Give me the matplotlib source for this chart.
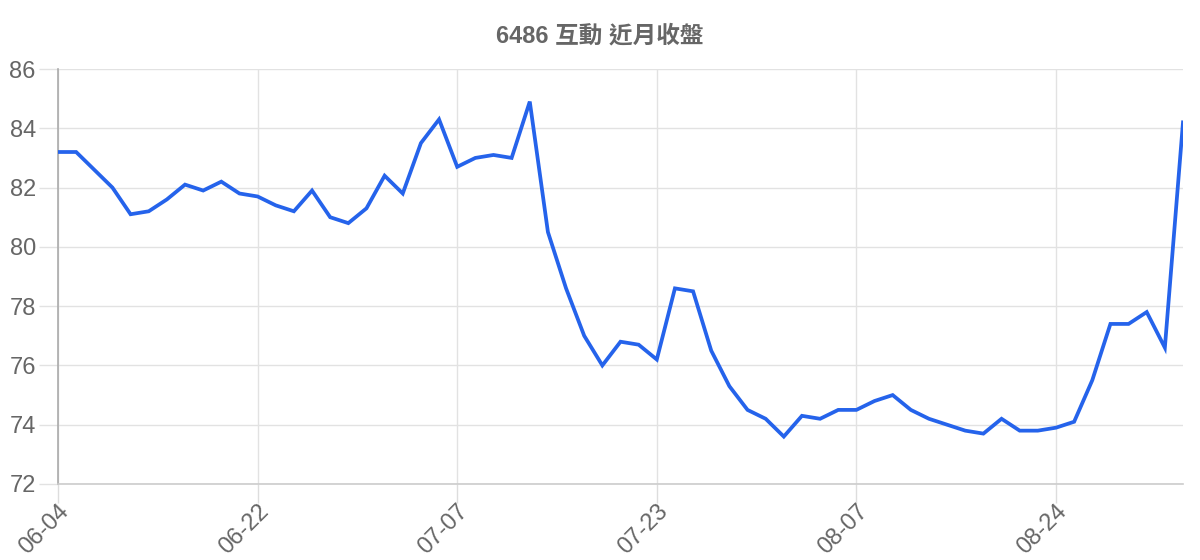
import matplotlib
matplotlib.use("Agg")
import matplotlib.pyplot as plt

plt.rcParams['font.family'] = ['Liberation Sans', 'Noto Sans CJK TC', 'DejaVu Sans']

title = '6486 互動 近月收盤'
tick_labels = ['06-04', '06-22', '07-07', '07-23', '08-07', '08-24']
tick_index = [0, 11, 22, 33, 44, 55]

close = [83.2, 83.2, 82.6, 82.0, 81.1, 81.2, 81.6, 82.1, 81.9, 82.2,
         81.8, 81.7, 81.4, 81.2, 81.9, 81.0, 80.8, 81.3, 82.4, 81.8,
         83.5, 84.3, 82.7, 83.0, 83.1, 83.0, 84.9, 80.5, 78.6, 77.0,
         76.0, 76.8, 76.7, 76.2, 78.6, 78.5, 76.5, 75.3, 74.5, 74.2,
         73.6, 74.3, 74.2, 74.5, 74.5, 74.8, 75.0, 74.5, 74.2, 74.0,
         73.8, 73.7, 74.2, 73.8, 73.8, 73.9, 74.1, 75.5, 77.4, 77.4,
         77.8, 76.6, 84.2]

x = list(range(len(close)))

fig = plt.figure(figsize=(12, 5.6), dpi=100)
ax = fig.add_axes([58 / 1200, 1 - 484 / 560, 1125 / 1200, 415 / 560])

ax.plot(x, close, color='#2563eb', linewidth=2.7, solid_joinstyle='miter', zorder=3)

ax.set_xlim(0, len(close) - 1)
ax.set_ylim(72, 86)
ax.set_yticks(range(72, 87, 2))
ax.set_xticks(tick_index)
ax.set_xticklabels(tick_labels, rotation=45, ha='right', rotation_mode='anchor')

ax.grid(True, color='#e2e2e2', linewidth=1)
ax.set_axisbelow(True)
for s in ['top', 'right']:
    ax.spines[s].set_visible(False)
ax.spines['left'].set_color('#aaaaaa')
ax.spines['bottom'].set_color('#cccccc')
ax.spines['left'].set_linewidth(1.2)
ax.spines['bottom'].set_linewidth(1.2)

ax.tick_params(axis='y', colors='#e2e2e2', length=14, width=1,
               labelcolor='#666666', labelsize=17, pad=2)
ax.tick_params(axis='x', colors='#dddddd', length=14, width=1,
               labelcolor='#666666', labelsize=17, pad=-2)

fig.suptitle(title, y=1 - 36 / 560, va='center', fontsize=17, fontweight='bold',
             color='#666666')

fig.savefig('out.png', dpi=100)
